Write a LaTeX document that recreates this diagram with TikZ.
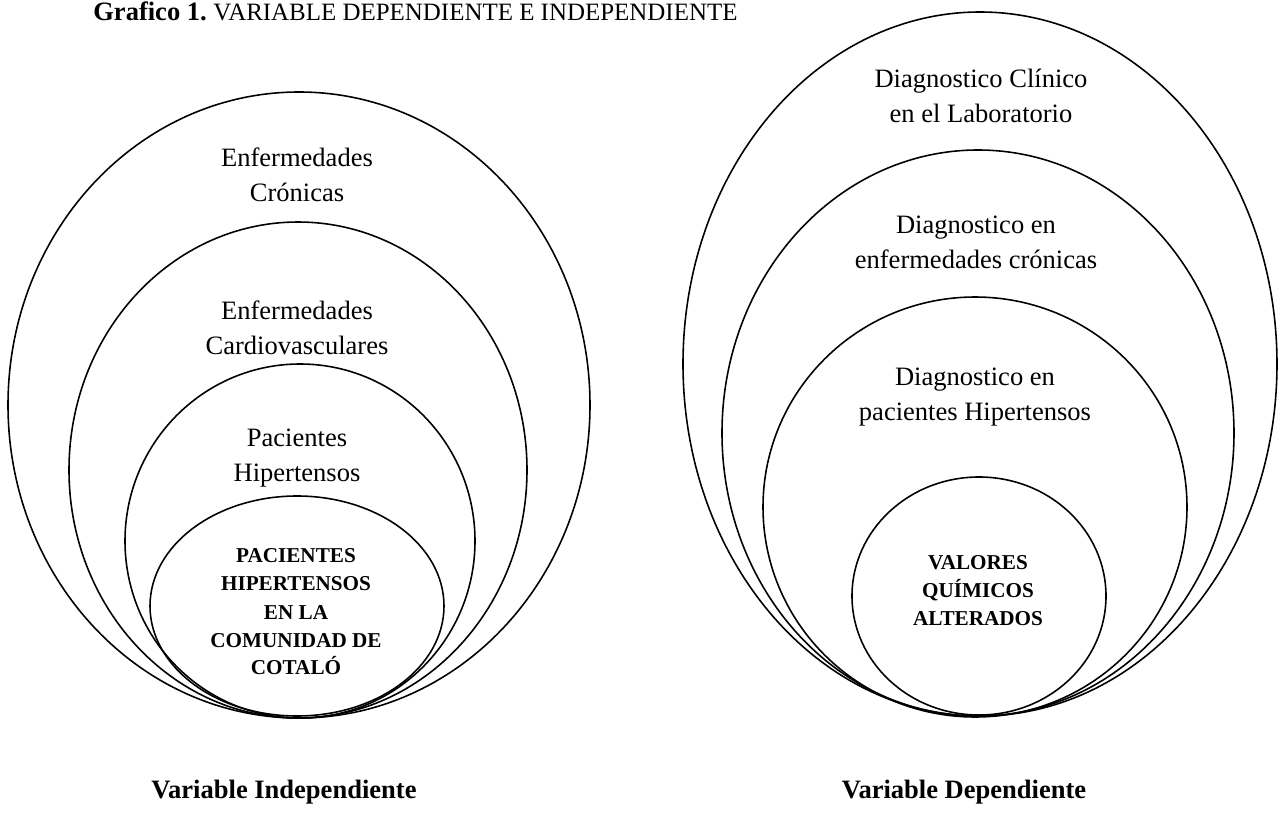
\documentclass[tikz,border=0pt]{standalone}
\usepackage{fontspec}
\setmainfont{Liberation Serif}
\begin{document}
\begin{tikzpicture}[x=0.02cm,y=-0.02cm,
  ring/.style={draw=black,line width=0.9pt},
  lab/.style={inner sep=0pt,anchor=base,font=\fontsize{15.1}{18}\selectfont},
  blab/.style={inner sep=0pt,anchor=base,font=\fontsize{12.05}{14}\selectfont\bfseries},
  vlab/.style={inner sep=0pt,anchor=base,font=\fontsize{15.1}{18}\selectfont\bfseries}]
\useasboundingbox (0,0) rectangle (1286,828);
% title
\node[inner sep=0pt,anchor=base west,font=\fontsize{15.1}{18}\selectfont] (title) at (93,21) {\frenchspacing\textbf{Grafico 1.} {\fontsize{14.2}{17}\selectfont VARIABLE DEPENDIENTE E INDEPENDIENTE}};
% left rings
\draw[ring] (299,405) ellipse [x radius=291, y radius=313];
\draw[ring] (298,470) ellipse [x radius=229, y radius=248];
\draw[ring] (300,541) ellipse [x radius=175, y radius=177];
\draw[ring] (297,606) ellipse [x radius=147, y radius=110];
% right rings
\draw[ring] (980,364) ellipse [x radius=297, y radius=352];
\draw[ring] (978,433) ellipse [x radius=256, y radius=283];
\draw[ring] (975,507) ellipse [x radius=212, y radius=210];
\draw[ring] (979,596) ellipse [x radius=127, y radius=119];
% left labels
\node[lab] (l1a) at (297,167) {Enfermedades};
\node[lab] (l1b) at (297,202) {Crónicas};
\node[lab] (l2a) at (297,319) {Enfermedades};
\node[lab] (l2b) at (297,354) {Cardiovasculares};
\node[lab] (l3a) at (297,446) {Pacientes};
\node[lab] (l3b) at (297,481) {Hipertensos};
\node[blab] (l4a) at (296,562) {PACIENTES};
\node[blab] (l4b) at (296,590) {HIPERTENSOS};
\node[blab] (l4c) at (296,619) {EN LA};
\node[blab] (l4d) at (296,647) {COMUNIDAD DE};
\node[blab] (l4e) at (296,674) {COTALÓ};
% right labels
\node[lab] (r1a) at (981,88) {Diagnostico Clínico};
\node[lab] (r1b) at (981,123) {en el Laboratorio};
\node[lab] (r2a) at (976,234) {Diagnostico en};
\node[lab] (r2b) at (976,269) {enfermedades crónicas};
\node[lab] (r3a) at (975,385) {Diagnostico en};
\node[lab] (r3b) at (975,420) {pacientes Hipertensos};
\node[blab] (r4a) at (978,569) {VALORES};
\node[blab] (r4b) at (978,597) {QUÍMICOS};
\node[blab] (r4c) at (978,625) {ALTERADOS};
% bottom captions
\node[vlab] (vi) at (284,798) {Variable Independiente};
\node[vlab] (vd) at (964,798) {Variable Dependiente};
\end{tikzpicture}
\end{document}
